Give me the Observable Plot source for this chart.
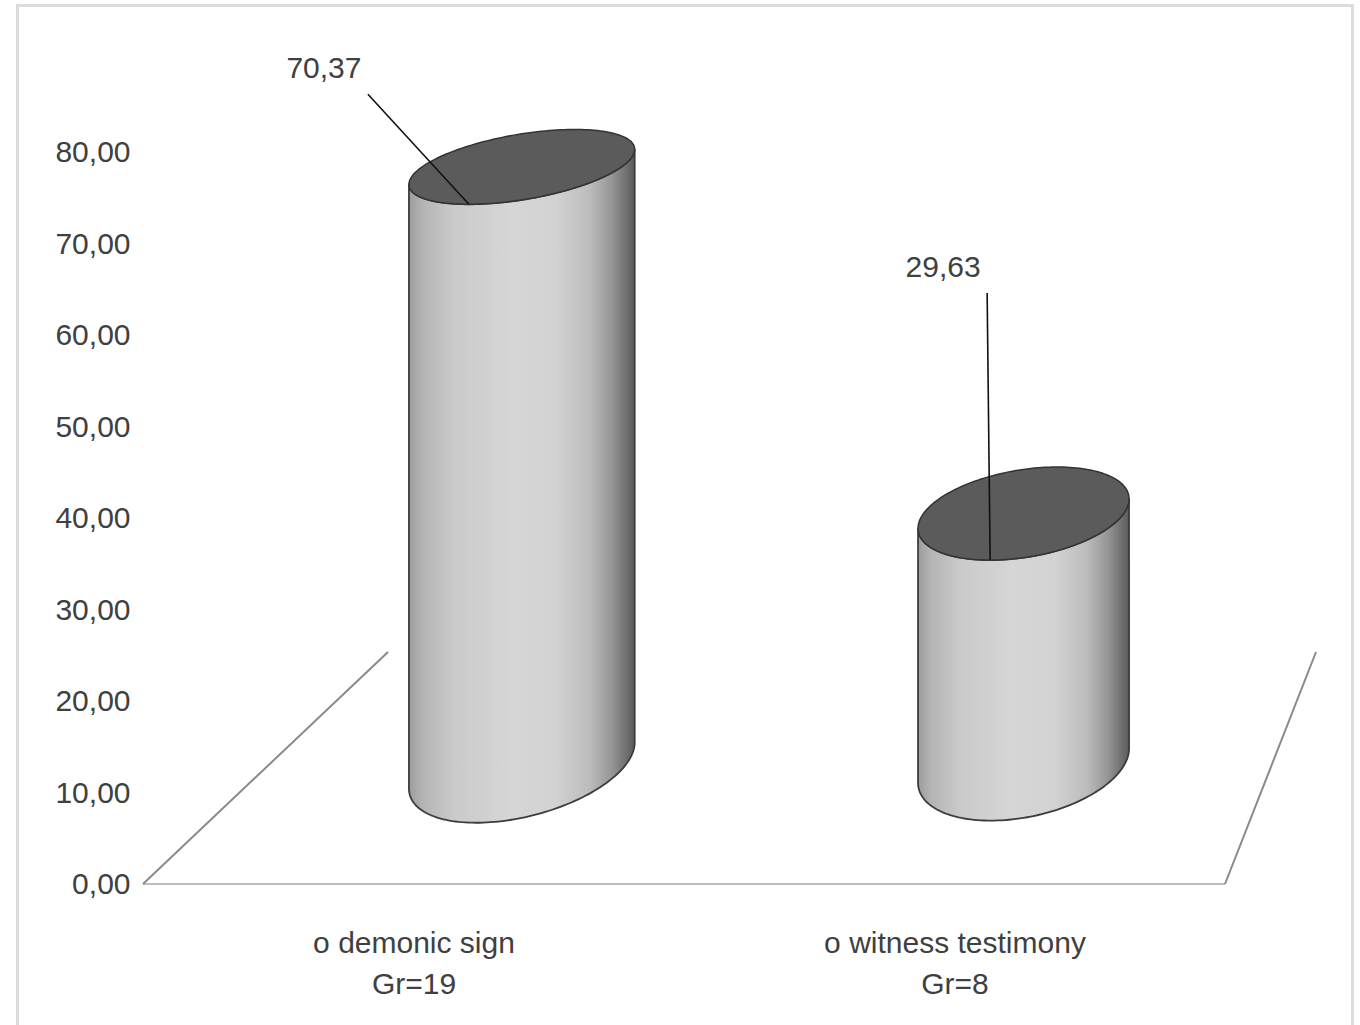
<!DOCTYPE html>
<html><head><meta charset="utf-8">
<script src="https://cdn.jsdelivr.net/npm/d3@7"></script>
<script src="https://cdn.jsdelivr.net/npm/@observablehq/plot@0.6"></script>
<style>
html,body{margin:0;padding:0;background:#fff;}
#wrap{position:relative;width:1360px;height:1025px;overflow:hidden;background:#fff;}
#border{position:absolute;left:16px;top:4px;width:1338px;height:1060px;box-sizing:border-box;border:3px solid #dcdcdc;border-bottom:none;pointer-events:none;}
#chart{position:absolute;left:0;top:0;}
</style></head>
<body>
<svg width="0" height="0" style="position:absolute">
<defs>
<linearGradient id="cylGrad" x1="0" x2="1" y1="0" y2="0">
<stop offset="0" stop-color="#9c9c9c"/>
<stop offset="0.06" stop-color="#b4b4b4"/>
<stop offset="0.2" stop-color="#cacaca"/>
<stop offset="0.45" stop-color="#d6d6d6"/>
<stop offset="0.65" stop-color="#d2d2d2"/>
<stop offset="0.8" stop-color="#bcbcbc"/>
<stop offset="0.9" stop-color="#959595"/>
<stop offset="1" stop-color="#5a5a5a"/>
</linearGradient>
</defs></svg>
<div id="wrap"><div id="chart"></div><div id="border"></div></div>
<script>
// ---- data ----
const categories = ["o demonic sign", "o witness testimony"];
const groups = ["Gr=19", "Gr=8"];
const values = [70.37, 29.63];
const yTicks = [0, 10, 20, 30, 40, 50, 60, 70, 80];

const data = categories.map((c, i) => ({category: c, group: groups[i], value: values[i]}));
const groupOf = new Map(data.map(d => [d.category, d.group]));
const fmt = v => v.toFixed(2).replace(".", ",");

// ---- 3D style constants (perspective of the floor, label placement) ----
const depthY = 232;          // floor depth rise in px
const shiftL = 245, shiftR = 91; // back edge shift of floor at left / right
const barDepth = 0.51;       // cylinders stand mid-depth
const vShrink = 0.93;        // vertical scale shrink at mid-depth
const labelOffsets = [[-145, -137], [-47, -294]];

function scene(index, scales, vals, dimensions, context) {
  const {x, y} = scales;
  const [x0, x1] = x.range();
  const y0 = y(0);
  const bw = x.bandwidth ? x.bandwidth() : (x1 - x0) / categories.length;
  const left = d => x0 + shiftL * d;
  const right = d => x1 + shiftR * d;
  const P = (xf, d) => left(d) + (xf - x0) / (x1 - x0) * (right(d) - left(d));

  const g = d3.create("svg:g");
  // floor
  g.append("line").attr("x1", x0).attr("y1", y0).attr("x2", x1).attr("y2", y0)
    .attr("stroke", "#bdbdbd").attr("stroke-width", 2);
  g.append("line").attr("x1", x0).attr("y1", y0).attr("x2", x0 + shiftL).attr("y2", y0 - depthY)
    .attr("stroke", "#8a8a8a").attr("stroke-width", 2);
  g.append("line").attr("x1", x1).attr("y1", y0).attr("x2", x1 + shiftR).attr("y2", y0 - depthY)
    .attr("stroke", "#8a8a8a").attr("stroke-width", 2);

  const W = right(barDepth) - left(barDepth);
  const pt = (xc, yc, a, b, k, t) => [xc + a * Math.cos(t), yc + b * Math.sin(t) + k * Math.cos(t)];
  const bOf = yc => 0.032 * yc + 27.7;
  const kOf = (xc, yc) => -(0.0093 * yc + 16) + (xc - 520) * 0.012;

  const labels = [];
  data.forEach((d, i) => {
    const xf = x(d.category) + bw / 2;
    const xc = P(xf, barDepth) + 3;
    const yb = y0 - depthY * barDepth;
    const yt = yb - (y0 - y(d.value)) * vShrink;
    const a = W * 0.1125 * (1 - 0.00013 * (xc - 520));
    const bb = bOf(yb), kb = kOf(xc, yb);
    const bt = bOf(yt), kt = kOf(xc, yt);
    const N = 90;
    let p = d3.path();
    p.moveTo(xc - a, yt - kt);
    p.lineTo(xc - a, yb - kb);
    for (let j = 0; j <= N; j++) {
      const t = Math.PI - Math.PI * j / N;
      const q = pt(xc, yb, a, bb, kb, t);
      p.lineTo(q[0], q[1]);
    }
    p.lineTo(xc + a, yt + kt);
    for (let j = 0; j <= N; j++) {
      const t = Math.PI * j / N;
      const q = pt(xc, yt, a, bt, kt, t);
      p.lineTo(q[0], q[1]);
    }
    p.closePath();
    g.append("path").attr("d", p.toString()).attr("fill", "url(#cylGrad)")
      .attr("stroke", "#3c3c3c").attr("stroke-width", 1.8).attr("stroke-linejoin", "round");
    let e = d3.path();
    for (let j = 0; j <= 2 * N; j++) {
      const t = 2 * Math.PI * j / (2 * N);
      const q = pt(xc, yt, a, bt, kt, t);
      if (j === 0) e.moveTo(q[0], q[1]); else e.lineTo(q[0], q[1]);
    }
    e.closePath();
    g.append("path").attr("d", e.toString()).attr("fill", "#5b5b5b")
      .attr("stroke", "#333").attr("stroke-width", 1.5);
    // anchor: lowest point of the top ellipse
    const r = Math.hypot(bt, kt);
    const ax = xc + a * (kt / r), ay = yt + r;
    const [ox, oy] = labelOffsets[i];
    labels.push({ax, ay, lx: ax + ox, ly: ay + oy, text: fmt(d.value)});
  });
  labels.forEach(l => {
    g.append("line").attr("x1", l.lx + 44).attr("y1", l.ly + 27).attr("x2", l.ax).attr("y2", l.ay)
      .attr("stroke", "#111").attr("stroke-width", 1.6);
    g.append("text").attr("x", l.lx).attr("y", l.ly).attr("dy", "0.35em")
      .attr("text-anchor", "middle").attr("fill", "#404040")
      .attr("font-size", 30).text(l.text);
  });
  return g.node();
}

const chart = Plot.plot({
  width: 1360,
  height: 1025,
  marginLeft: 143,
  marginRight: 135,
  marginTop: 152,
  marginBottom: 141,
  style: {fontFamily: "'Liberation Sans', Arial, sans-serif", fontSize: "30px", color: "#404040", background: "transparent", overflow: "visible"},
  x: {type: "band", domain: categories, padding: 0, label: null},
  y: {type: "linear", domain: [0, 80], label: null},
  marks: [
    Plot.axisY({ticks: yTicks, tickSize: 0, tickPadding: 13, tickFormat: fmt, fontSize: 30, label: null}),
    Plot.axisX({tickSize: 0, tickPadding: 39, tickFormat: c => c + "\n" + groupOf.get(c), lineHeight: 1.37, fontSize: 30, label: null}),
    scene
  ]
});
document.getElementById("chart").appendChild(chart);
</script>
</body></html>
